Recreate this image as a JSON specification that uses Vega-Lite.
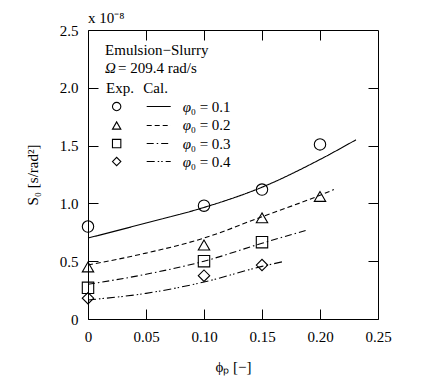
{
  "$schema": "https://vega.github.io/schema/vega-lite/v6.json",
  "width": 290,
  "height": 289,
  "autosize": {"type": "none"},
  "padding": {"left": 88, "top": 30, "right": 44, "bottom": 66},
  "background": "white",
  "config": {
    "view": {"stroke": "black", "strokeWidth": 1},
    "font": "Liberation Serif",
    "axis": {
      "labelFont": "Liberation Serif", "labelFontSize": 15, "labelColor": "black",
      "titleFont": "Liberation Serif", "titleFontSize": 15, "titleFontWeight": "normal", "titleColor": "black",
      "tickColor": "black", "domain": false, "grid": false, "tickSize": -10, "labelPadding": 20
    }
  },
  "title": {"text": "x 10⁻⁸", "anchor": "start", "offset": -3, "font": "Liberation Serif", "fontSize": 15, "fontWeight": "normal", "color": "black", "frame": "group"},
  "datasets": {
    "pts": [
      {"s": "0.1", "x": 0, "y": 0.80}, {"s": "0.1", "x": 0.1, "y": 0.98}, {"s": "0.1", "x": 0.15, "y": 1.12}, {"s": "0.1", "x": 0.2, "y": 1.51},
      {"s": "0.2", "x": 0, "y": 0.45}, {"s": "0.2", "x": 0.1, "y": 0.64}, {"s": "0.2", "x": 0.15, "y": 0.875}, {"s": "0.2", "x": 0.2, "y": 1.06},
      {"s": "0.3", "x": 0, "y": 0.27}, {"s": "0.3", "x": 0.1, "y": 0.50}, {"s": "0.3", "x": 0.15, "y": 0.665},
      {"s": "0.4", "x": 0, "y": 0.18}, {"s": "0.4", "x": 0.1, "y": 0.375}, {"s": "0.4", "x": 0.15, "y": 0.467}
    ],
    "curves": [
      {"s": "0.1", "x": 0, "y": 0.70}, {"s": "0.1", "x": 0.05, "y": 0.83}, {"s": "0.1", "x": 0.1, "y": 0.965}, {"s": "0.1", "x": 0.15, "y": 1.14}, {"s": "0.1", "x": 0.2, "y": 1.38}, {"s": "0.1", "x": 0.231, "y": 1.55},
      {"s": "0.2", "x": 0, "y": 0.467}, {"s": "0.2", "x": 0.05, "y": 0.57}, {"s": "0.2", "x": 0.1, "y": 0.70}, {"s": "0.2", "x": 0.15, "y": 0.885}, {"s": "0.2", "x": 0.2, "y": 1.07}, {"s": "0.2", "x": 0.212, "y": 1.12},
      {"s": "0.3", "x": 0, "y": 0.30}, {"s": "0.3", "x": 0.05, "y": 0.387}, {"s": "0.3", "x": 0.1, "y": 0.50}, {"s": "0.3", "x": 0.15, "y": 0.655}, {"s": "0.3", "x": 0.189, "y": 0.77},
      {"s": "0.4", "x": 0, "y": 0.165}, {"s": "0.4", "x": 0.05, "y": 0.222}, {"s": "0.4", "x": 0.1, "y": 0.32}, {"s": "0.4", "x": 0.15, "y": 0.455}, {"s": "0.4", "x": 0.168, "y": 0.496}
    ],
    "legtext": [
      {"t": "Emulsion−Slurry", "x": 0.0147, "y": 2.323},
      {"t": "= 209.4 rad/s", "x": 0.0258, "y": 2.167},
      {"t": "Exp.", "x": 0.0155, "y": 1.994},
      {"t": "Cal.", "x": 0.0477, "y": 1.994},
      {"t": "₀ = 0.1", "x": 0.0885, "y": 1.838},
      {"t": "₀ = 0.2", "x": 0.0885, "y": 1.674},
      {"t": "₀ = 0.3", "x": 0.0885, "y": 1.518},
      {"t": "₀ = 0.4", "x": 0.0885, "y": 1.362}
    ],
    "legital": [
      {"t": "Ω", "x": 0.0147, "y": 2.167},
      {"t": "φ", "x": 0.0816, "y": 1.838},
      {"t": "φ", "x": 0.0816, "y": 1.674},
      {"t": "φ", "x": 0.0816, "y": 1.518},
      {"t": "φ", "x": 0.0816, "y": 1.362}
    ],
    "legsym": [
      {"s": "0.1", "sx": 0.0247, "x1": 0.0506, "x2": 0.0713, "y": 1.838},
      {"s": "0.2", "sx": 0.0247, "x1": 0.0506, "x2": 0.0713, "y": 1.674},
      {"s": "0.3", "sx": 0.0247, "x1": 0.0506, "x2": 0.0713, "y": 1.518},
      {"s": "0.4", "sx": 0.0247, "x1": 0.0506, "x2": 0.0713, "y": 1.362}
    ]
  },
  "layer": [
    {
      "data": {"name": "curves"},
      "mark": {"type": "line", "color": "black", "strokeWidth": 1.1, "interpolate": "monotone"},
      "encoding": {
        "x": {"field": "x", "type": "quantitative", "scale": {"domain": [0, 0.25], "nice": false, "zero": false},
              "axis": {"orient": "bottom", "values": [0, 0.05, 0.1, 0.15, 0.2, 0.25], "labelExpr": "datum.value == 0 ? '0' : format(datum.value, '.2f')", "title": "ϕₚ [−]", "titlePadding": 15, "labelFlush": false}},
        "y": {"field": "y", "type": "quantitative", "scale": {"domain": [0, 2.5], "nice": false},
              "axis": {"orient": "left", "values": [0, 0.5, 1, 1.5, 2, 2.5], "labelExpr": "datum.value == 0 ? '0' : format(datum.value, '.1f')", "title": "S₀ [s/rad²]", "titlePadding": 19, "labelFlush": false}},
        "strokeDash": {"field": "s", "type": "nominal", "legend": null,
                       "scale": {"domain": ["0.1", "0.2", "0.3", "0.4"], "range": [[1, 0], [5, 3], [7, 3, 1.5, 3], [8, 3, 1.5, 2, 1.5, 3]]}},
        "detail": {"field": "s"}
      }
    },
    {
      "data": {"name": "pts"},
      "mark": {"type": "point", "filled": false, "color": "black", "strokeWidth": 1.1, "size": 130, "opacity": 1},
      "encoding": {
        "x": {"field": "x", "type": "quantitative", "axis": {"orient": "top", "values": [0.05, 0.1, 0.15, 0.2], "labels": false, "title": null}},
        "y": {"field": "y", "type": "quantitative", "axis": {"orient": "right", "values": [0.5, 1, 1.5, 2], "labels": false, "title": null}},
        "shape": {"field": "s", "type": "nominal", "legend": null,
                  "scale": {"domain": ["0.1", "0.2", "0.3", "0.4"], "range": ["circle", "triangle-up", "square", "diamond"]}}
      }
    },
    {
      "data": {"name": "legtext"},
      "mark": {"type": "text", "align": "left", "baseline": "middle", "fontSize": 15, "font": "Liberation Serif", "color": "black"},
      "encoding": {
        "x": {"field": "x", "type": "quantitative", "axis": null},
        "y": {"field": "y", "type": "quantitative", "axis": null},
        "text": {"field": "t"}
      }
    },
    {
      "data": {"name": "legital"},
      "mark": {"type": "text", "align": "left", "baseline": "middle", "fontSize": 15, "font": "Liberation Serif", "fontStyle": "italic", "color": "black"},
      "encoding": {
        "x": {"field": "x", "type": "quantitative", "axis": null},
        "y": {"field": "y", "type": "quantitative", "axis": null},
        "text": {"field": "t"}
      }
    },
    {
      "data": {"name": "legsym"},
      "mark": {"type": "point", "filled": false, "color": "black", "strokeWidth": 1.1, "size": 70, "opacity": 1},
      "encoding": {
        "x": {"field": "sx", "type": "quantitative", "axis": null},
        "y": {"field": "y", "type": "quantitative", "axis": null},
        "shape": {"field": "s", "type": "nominal", "legend": null}
      }
    },
    {
      "data": {"name": "legsym"},
      "mark": {"type": "rule", "color": "black", "strokeWidth": 1.1},
      "encoding": {
        "x": {"field": "x1", "type": "quantitative", "axis": null},
        "x2": {"field": "x2"},
        "y": {"field": "y", "type": "quantitative", "axis": null},
        "strokeDash": {"field": "s", "type": "nominal", "legend": null}
      }
    }
  ],
  "resolve": {"axis": {"x": "independent", "y": "independent"}}
}
